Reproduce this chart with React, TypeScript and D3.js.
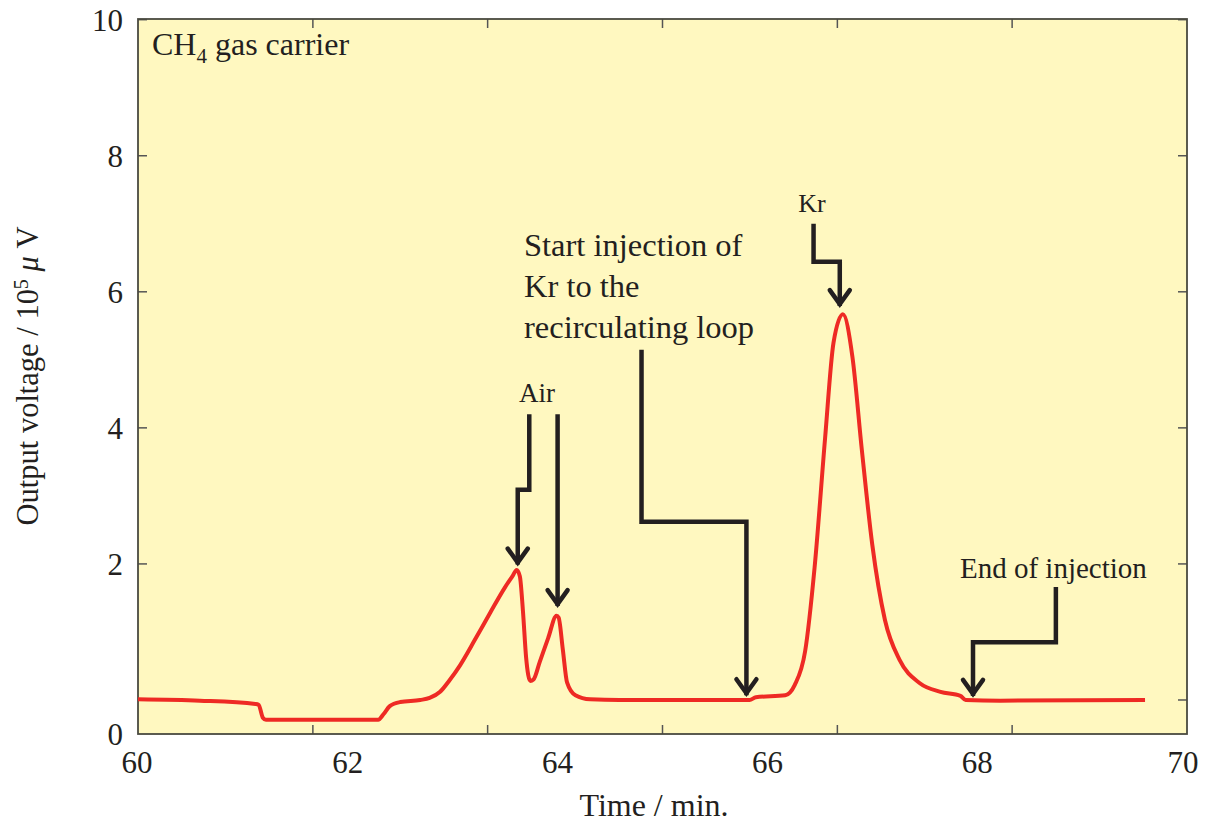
import React from "react";
import * as d3 from "d3";

// time (min) and output voltage (10^5 µV)
const times = [
  60.0, 60.59, 61.12, 61.15, 61.19, 61.22, 62.29, 62.34, 62.4, 62.5, 62.69, 62.78, 62.88, 62.97,
  63.07, 63.21, 63.36, 63.5, 63.57, 63.61, 63.64, 63.67, 63.7, 63.74, 63.77, 63.83, 63.91, 63.99, 64.01,
  64.05, 64.09, 64.17, 64.31, 64.59, 65.83, 65.89, 66.17, 66.26, 66.36, 66.45, 66.55, 66.63, 66.72,
  66.81, 66.9, 67.0, 67.12, 67.26, 67.45, 67.65, 67.84, 67.89, 68.22, 69.6,
];
const voltage = [
  0.01, -0.01, -0.06, -0.07, -0.26, -0.29, -0.29, -0.21, -0.09, -0.03, 0.0, 0.03, 0.12, 0.29,
  0.51, 0.88, 1.29, 1.66, 1.82, 1.91, 1.82, 1.3, 0.62, 0.28, 0.3, 0.56, 0.91, 1.24, 1.21,
  0.74, 0.26, 0.07, 0.01, 0.0, 0.0, 0.04, 0.07, 0.22, 0.72, 1.95, 3.85, 5.25, 5.67,
  5.05, 3.68, 2.28, 1.18, 0.59, 0.25, 0.12, 0.06, 0.0, -0.01, 0.0,
];

const xTickLabels = [60, 62, 64, 66, 68, 70];
const xTickMarks = [61.667, 63.333, 65, 66.667, 68.333];
const yTicks = [0, 2, 4, 6, 8, 10];

const startLines = ["Start injection of", "Kr to the", "recirculating loop"];

const W = 1217;
const H = 825;
const left = 138, right = 1187, top = 19, bottom = 734;

const x = d3.scaleLinear().domain([60, 70]).range([left, right]);
const y = d3.scaleLinear().domain([-0.5, 10.01]).range([bottom, top]);

const font = "'Liberation Serif', 'Times New Roman', serif";

// arrow as [time, value] corners, last one is the tip
const arrows: [number, number][][] = [
  [[63.73, 4.2], [63.73, 3.09], [63.62, 3.09], [63.62, 1.99]],
  [[64.0, 4.2], [64.0, 1.38]],
  [[66.44, 7.0], [66.44, 6.44], [66.69, 6.44], [66.69, 5.79]],
  [[64.8, 5.15], [64.8, 2.62], [65.8, 2.62], [65.8, 0.07]],
  [[68.75, 1.66], [68.75, 0.85], [67.96, 0.85], [67.96, 0.06]],
];

function App() {
  const pts = times.map((t, i) => [t, voltage[i]] as [number, number]);
  const line = d3
    .line<[number, number]>()
    .x((d) => x(d[0]))
    .y((d) => y(d[1]))
    .curve(d3.curveMonotoneX);

  return (
    <svg width={W} height={H} style={{ display: "block", position: "absolute", left: 0, top: 0 }}>
      <rect x={left} y={top} width={right - left} height={bottom - top} fill="#fff8c0" />
      {/* ticks */}
      {yTicks.map((v) => (
        <g key={"y" + v} stroke="#555" strokeWidth={1.5}>
          <line x1={left} x2={left + 9} y1={y(v)} y2={y(v)} />
          <line x1={right} x2={right - 9} y1={y(v)} y2={y(v)} />
        </g>
      ))}
      {xTickMarks.map((t) => (
        <g key={"x" + t} stroke="#555" strokeWidth={1.5}>
          <line x1={x(t)} x2={x(t)} y1={bottom} y2={bottom - 9} />
          <line x1={x(t)} x2={x(t)} y1={top} y2={top + 9} />
        </g>
      ))}
      <rect x={left} y={top} width={right - left} height={bottom - top} fill="none" stroke="#4a4a40" strokeWidth={1.8} />

      {/* tick labels */}
      {yTicks.map((v) => (
        <text
          key={"yl" + v}
          x={left - 15}
          y={v === 0 ? y(-0.5) : y(v)}
          dy="0.35em"
          textAnchor="end"
          fontFamily={font}
          fontSize={31}
          fill="#231f20"
        >
          {v}
        </text>
      ))}
      {xTickLabels.map((t) => (
        <text
          key={"xl" + t}
          x={t === 60 ? x(t) - 1 : t === 70 ? x(t) - 4 : x(t)}
          y={773}
          textAnchor="middle"
          fontFamily={font}
          fontSize={31}
          fill="#231f20"
        >
          {t}
        </text>
      ))}

      {/* axis titles */}
      <text x={654} y={816} textAnchor="middle" fontFamily={font} fontSize={32} fill="#231f20">
        Time / min.
      </text>
      <text
        transform="translate(38,376) rotate(-90)"
        textAnchor="middle"
        fontFamily={font}
        fontSize={30.5}
        fill="#231f20"
      >
        Output voltage / 10<tspan dy={-10} fontSize={20}>5</tspan>
        <tspan dy={10}> </tspan>
        <tspan fontStyle="italic">μ</tspan> V
      </text>

      <text x={152} y={55} fontFamily={font} fontSize={32} fill="#231f20">
        CH<tspan dy={8} fontSize={21}>4</tspan>
        <tspan dy={-8}> gas carrier</tspan>
      </text>

      {/* trace */}
      <path d={line(pts) || ""} fill="none" stroke="#ee2a24" strokeWidth={4} strokeLinejoin="round" />

      {/* annotations */}
      {arrows.map((a, i) => {
        const p = a.map((d) => [x(d[0]), y(d[1])]);
        const tip = p[p.length - 1];
        return (
          <g key={"a" + i} stroke="#231f20" fill="none" strokeWidth={4.5}>
            <path d={"M" + p.map((q) => q.join(",")).join("L")} />
            <path d={`M${tip[0] - 10},${tip[1] - 16}L${tip[0]},${tip[1] - 2}L${tip[0] + 10},${tip[1] - 16}`} strokeLinecap="round" strokeLinejoin="miter" />
          </g>
        );
      })}
      <text x={537} y={402} textAnchor="middle" fontFamily={font} fontSize={27} fill="#231f20">
        Air
      </text>
      <text x={812} y={212} textAnchor="middle" fontFamily={font} fontSize={26} fill="#231f20">
        Kr
      </text>
      {startLines.map((s, i) => (
        <text key={s} x={524} y={256 + i * 41} fontFamily={font} fontSize={32.5} fill="#231f20">
          {s}
        </text>
      ))}
      <text x={960} y={578} fontFamily={font} fontSize={29} fill="#231f20">
        End of injection
      </text>
    </svg>
  );
}

export default App;
